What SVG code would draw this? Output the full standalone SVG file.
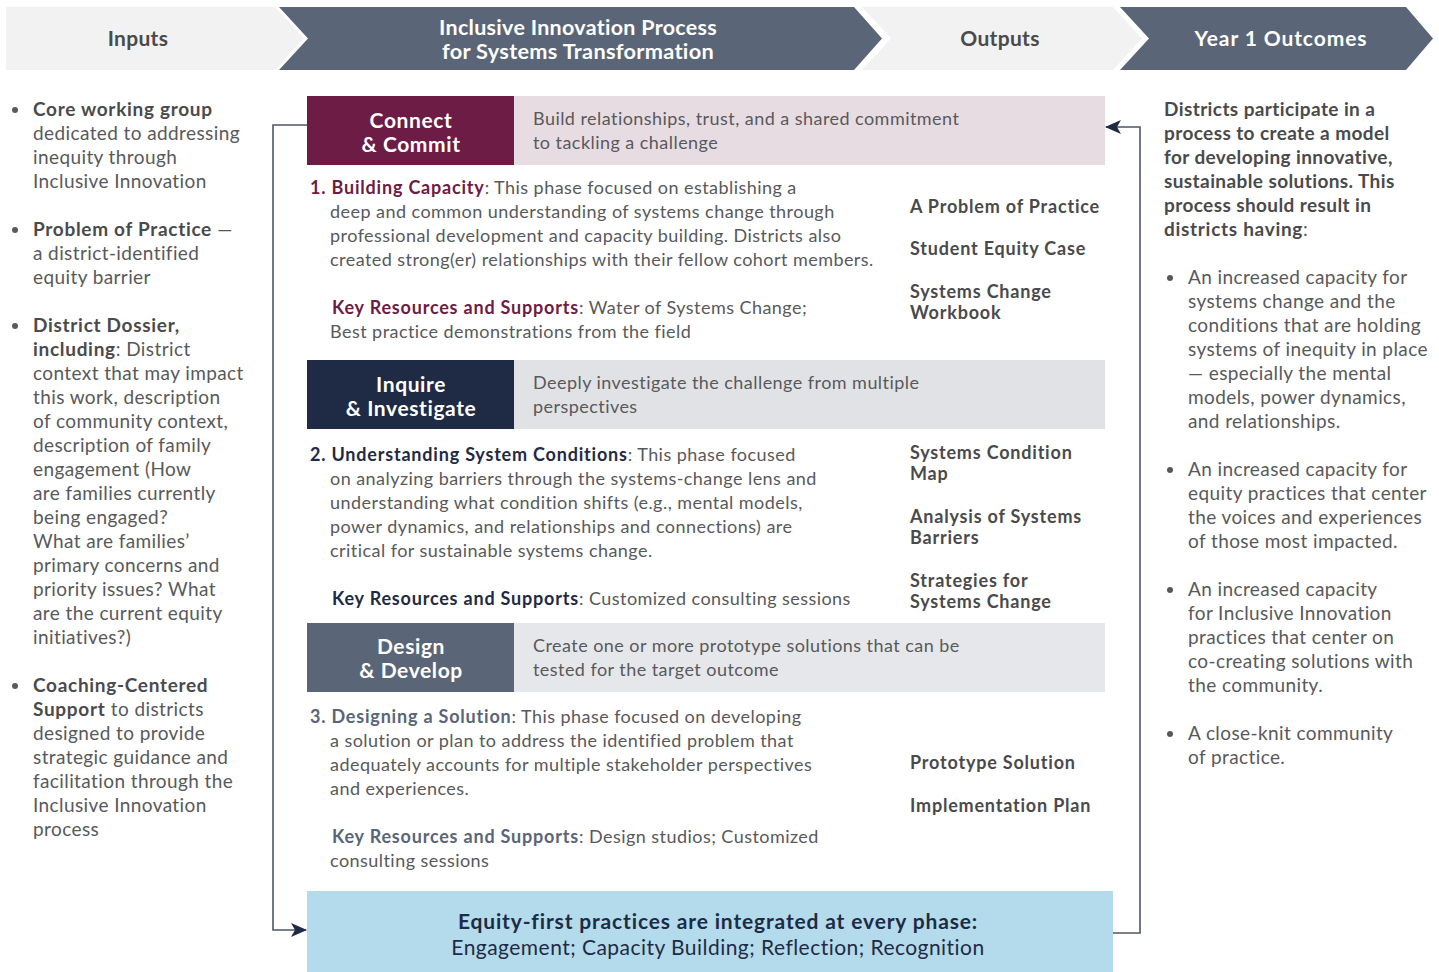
<svg xmlns="http://www.w3.org/2000/svg" width="1439" height="972" viewBox="0 0 1439 972">
<defs>
<style>
text{font-family:Lato,"Liberation Sans",sans-serif;font-size:18px;fill:#58595b;letter-spacing:0.45px}
.sd text{font-size:19px;letter-spacing:0.4px}
.b{font-weight:700;fill:#4a4a4c;letter-spacing:0.7px}
.hd{font-size:21px;font-weight:700;text-anchor:middle;letter-spacing:0.3px}
.hl{fill:#4a4a4c}
.hw{fill:#ffffff}
.lab{font-size:21px;font-weight:700;fill:#ffffff;text-anchor:middle;letter-spacing:0.6px}
.m{font-weight:700;fill:#6d1c45;letter-spacing:0.8px}
.n{font-weight:700;fill:#1f2a44;letter-spacing:0.8px}
.s{font-weight:700;fill:#5a6577;letter-spacing:0.8px}
.out{font-weight:700;fill:#4a4a4c;letter-spacing:0.8px}
.dot{fill:#58595b}
.conn{fill:none;stroke:#4f5669;stroke-width:1.6}
</style>
<marker id="arr" viewBox="0 0 16 14" refX="15" refY="7" markerWidth="16" markerHeight="14" markerUnits="userSpaceOnUse" orient="auto">
<path d="M0,0 L16,7 L0,14 L4,7 Z" fill="#1f2a44"/>
</marker>
</defs>

<g id="header">
<polygon points="6,7 275,7 304,38.5 275,70 6,70" fill="#f2f2f2"/>
<polygon points="279,7 854,7 882,38.5 854,70 279,70 308,38.5" fill="#5a6577"/>
<polygon points="862,7 1113,7 1142,38.5 1113,70 862,70 891,38.5" fill="#f2f2f2"/>
<polygon points="1120,7 1406,7 1433,38.5 1406,70 1120,70 1149,38.5" fill="#5a6577"/>
<text class="hd hl" x="138" y="46">Inputs</text>
<text class="hd hw" x="578" y="35" textLength="278" lengthAdjust="spacingAndGlyphs">Inclusive Innovation Process</text>
<text class="hd hw" x="578" y="59" textLength="272" lengthAdjust="spacingAndGlyphs">for Systems Transformation</text>
<text class="hd hl" x="1000" y="46">Outputs</text>
<text class="hd hw" x="1281" y="46" style="letter-spacing:0.9px">Year 1 Outcomes</text>
</g>

<g id="inputs" class="sd">
<circle class="dot" cx="15" cy="110" r="3"/>
<text x="33" y="116"><tspan class="b">Core working group</tspan></text>
<text x="33" y="140">dedicated to addressing</text>
<text x="33" y="164">inequity through</text>
<text x="33" y="188">Inclusive Innovation</text>
<circle class="dot" cx="15" cy="230" r="3"/>
<text x="33" y="236"><tspan class="b">Problem of Practice</tspan> —</text>
<text x="33" y="260">a district-identified</text>
<text x="33" y="284">equity barrier</text>
<circle class="dot" cx="15" cy="326" r="3"/>
<text x="33" y="332"><tspan class="b">District Dossier,</tspan></text>
<text x="33" y="356"><tspan class="b">including</tspan>: District</text>
<text x="33" y="380">context that may impact</text>
<text x="33" y="404">this work, description</text>
<text x="33" y="428">of community context,</text>
<text x="33" y="452">description of family</text>
<text x="33" y="476">engagement (How</text>
<text x="33" y="500">are families currently</text>
<text x="33" y="524">being engaged?</text>
<text x="33" y="548">What are families’</text>
<text x="33" y="572">primary concerns and</text>
<text x="33" y="596">priority issues? What</text>
<text x="33" y="620">are the current equity</text>
<text x="33" y="644">initiatives?)</text>
<circle class="dot" cx="15" cy="686" r="3"/>
<text x="33" y="692"><tspan class="b">Coaching-Centered</tspan></text>
<text x="33" y="716"><tspan class="b">Support</tspan> to districts</text>
<text x="33" y="740">designed to provide</text>
<text x="33" y="764">strategic guidance and</text>
<text x="33" y="788">facilitation through the</text>
<text x="33" y="812">Inclusive Innovation</text>
<text x="33" y="836">process</text>
</g>

<g id="phase-connect">
<rect x="307" y="96" width="207" height="69" fill="#6d1c45"/>
<rect x="514" y="96" width="591" height="69" fill="#e8dce3"/>
<text class="lab" x="411" y="128">Connect</text>
<text class="lab" x="411" y="152">&amp; Commit</text>
<text x="533" y="125">Build relationships, trust, and a shared commitment</text>
<text x="533" y="149">to tackling a challenge</text>
<text x="310" y="194"><tspan class="m">1. Building Capacity</tspan>: This phase focused on establishing a</text>
<text x="330" y="218">deep and common understanding of systems change through</text>
<text x="330" y="242">professional development and capacity building. Districts also</text>
<text x="330" y="266">created strong(er) relationships with their fellow cohort members.</text>
<text x="332" y="314"><tspan class="m">Key Resources and Supports</tspan>: Water of Systems Change;</text>
<text x="330" y="338">Best practice demonstrations from the field</text>
</g>

<g id="outputs-1">
<text class="out" x="910" y="213">A Problem of Practice</text>
<text class="out" x="910" y="255">Student Equity Case</text>
<text class="out" x="910" y="298">Systems Change</text>
<text class="out" x="910" y="319">Workbook</text>
</g>

<g id="phase-inquire">
<rect x="307" y="360" width="207" height="69" fill="#1f2a44"/>
<rect x="514" y="360" width="591" height="69" fill="#e1e2e6"/>
<text class="lab" x="411" y="392">Inquire</text>
<text class="lab" x="411" y="416">&amp; Investigate</text>
<text x="533" y="389">Deeply investigate the challenge from multiple</text>
<text x="533" y="413">perspectives</text>
<text x="310" y="461"><tspan class="n">2. Understanding System Conditions</tspan>: This phase focused</text>
<text x="330" y="485">on analyzing barriers through the systems-change lens and</text>
<text x="330" y="509">understanding what condition shifts (e.g., mental models,</text>
<text x="330" y="533">power dynamics, and relationships and connections) are</text>
<text x="330" y="557">critical for sustainable systems change.</text>
<text x="332" y="605"><tspan class="n">Key Resources and Supports</tspan>: Customized consulting sessions</text>
</g>

<g id="outputs-2">
<text class="out" x="910" y="459">Systems Condition</text>
<text class="out" x="910" y="480">Map</text>
<text class="out" x="910" y="523">Analysis of Systems</text>
<text class="out" x="910" y="544">Barriers</text>
<text class="out" x="910" y="587">Strategies for</text>
<text class="out" x="910" y="608">Systems Change</text>
</g>

<g id="phase-design">
<rect x="307" y="623" width="207" height="69" fill="#5a6577"/>
<rect x="514" y="623" width="591" height="69" fill="#e6e7ea"/>
<text class="lab" x="411" y="654">Design</text>
<text class="lab" x="411" y="678">&amp; Develop</text>
<text x="533" y="652">Create one or more prototype solutions that can be</text>
<text x="533" y="676">tested for the target outcome</text>
<text x="310" y="723"><tspan class="s">3. Designing a Solution</tspan>: This phase focused on developing</text>
<text x="330" y="747">a solution or plan to address the identified problem that</text>
<text x="330" y="771">adequately accounts for multiple stakeholder perspectives</text>
<text x="330" y="795">and experiences.</text>
<text x="332" y="843"><tspan class="s">Key Resources and Supports</tspan>: Design studios; Customized</text>
<text x="330" y="867">consulting sessions</text>
</g>

<g id="outputs-3">
<text class="out" x="910" y="769">Prototype Solution</text>
<text class="out" x="910" y="812">Implementation Plan</text>
</g>

<g id="equity">
<rect x="307" y="891" width="806" height="81" fill="#b3dbec"/>
<text x="718" y="929" text-anchor="middle" style="font-size:21px;font-weight:700;fill:#1f2a44;letter-spacing:0.85px">Equity-first practices are integrated at every phase:</text>
<text x="718" y="955" text-anchor="middle" style="font-size:21px;fill:#1f2a44;letter-spacing:0.46px">Engagement; Capacity Building; Reflection; Recognition</text>
</g>

<g id="outcomes" class="sd">
<text x="1164" y="116" class="b">Districts participate in a</text>
<text x="1164" y="140" class="b">process to create a model</text>
<text x="1164" y="164" class="b">for developing innovative,</text>
<text x="1164" y="188" class="b">sustainable solutions. This</text>
<text x="1164" y="212" class="b">process should result in</text>
<text x="1164" y="236"><tspan class="b">districts having</tspan>:</text>
<circle class="dot" cx="1170" cy="278" r="3"/>
<text x="1188" y="284">An increased capacity for</text>
<text x="1188" y="308">systems change and the</text>
<text x="1188" y="332">conditions that are holding</text>
<text x="1188" y="356">systems of inequity in place</text>
<text x="1188" y="380">— especially the mental</text>
<text x="1188" y="404">models, power dynamics,</text>
<text x="1188" y="428">and relationships.</text>
<circle class="dot" cx="1170" cy="470" r="3"/>
<text x="1188" y="476">An increased capacity for</text>
<text x="1188" y="500">equity practices that center</text>
<text x="1188" y="524">the voices and experiences</text>
<text x="1188" y="548">of those most impacted.</text>
<circle class="dot" cx="1170" cy="590" r="3"/>
<text x="1188" y="596">An increased capacity</text>
<text x="1188" y="620">for Inclusive Innovation</text>
<text x="1188" y="644">practices that center on</text>
<text x="1188" y="668">co-creating solutions with</text>
<text x="1188" y="692">the community.</text>
<circle class="dot" cx="1170" cy="734" r="3"/>
<text x="1188" y="740">A close-knit community</text>
<text x="1188" y="764">of practice.</text>
</g>

<g id="connectors">
<path class="conn" d="M307,125 H273 V930 H306" marker-end="url(#arr)"/>
<path class="conn" d="M1113,933 H1140 V127 H1106" marker-end="url(#arr)"/>
</g>
</svg>
